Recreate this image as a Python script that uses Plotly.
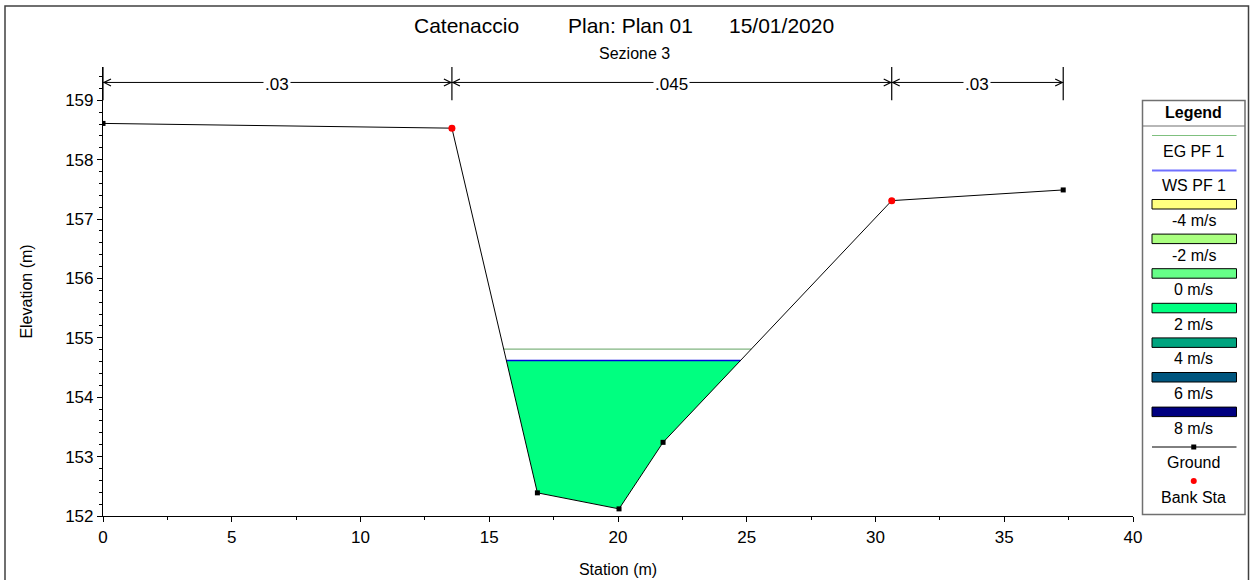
import plotly.graph_objects as go

# Cross-section geometry (station, elevation)
stations = [0.0, 13.55, 16.87, 20.04, 21.75, 30.63, 37.29]
elevations = [158.61, 158.53, 152.39, 152.12, 153.24, 157.31, 157.49]
bank_stations = [13.55, 30.63]

# Water profiles
ws_elev = 154.62   # WS PF 1
eg_elev = 154.81   # EG PF 1

# Manning's n regions
n_breaks = [0.0, 13.55, 30.63, 37.29]
n_values = [".03", ".045", ".03"]

# Velocity legend
vel_labels = ["-4 m/s", "-2 m/s", "0 m/s", "2 m/s", "4 m/s", "6 m/s", "8 m/s"]
vel_colors = ["#ffff80", "#aaff80", "#66ff88", "#00ff80", "#00a47f", "#00567f", "#000080"]

FONT = "Liberation Sans, Arial, sans-serif"
W, H = 1253, 580
L, R, T, B = 103, 120, 67, 64
PW, PH = W - L - R, H - T - B
Y_RANGE = [152.0, 159.56]
N_LINE_Y = 159.30


def px(x):
    return (x - L) / PW


def py(y):
    return (H - B - y) / PH


def text(x, y, s, size=16, anchor="center"):
    return dict(x=px(x), y=py(y), xref="paper", yref="paper", text=s, showarrow=False,
                xanchor=anchor, yanchor="middle",
                font=dict(family=FONT, size=size, color="black"))


def crossings(level):
    """Left and right stations where a water level meets the ground."""
    pts = []
    for i in range(len(stations) - 1):
        x0, y0, x1, y1 = stations[i], elevations[i], stations[i + 1], elevations[i + 1]
        if (y0 - level) * (y1 - level) < 0:
            t = (level - y0) / (y1 - y0)
            pts.append(x0 + t * (x1 - x0))
    return pts[0], pts[-1]


ws_l, ws_r = crossings(ws_elev)
eg_l, eg_r = crossings(eg_elev)

# wetted polygon below the water surface
poly_x = [ws_l] + [s for s in stations if ws_l < s < ws_r] + [ws_r]
poly_y = [ws_elev] + [e for s, e in zip(stations, elevations) if ws_l < s < ws_r] + [ws_elev]

fig = go.Figure()
fig.add_trace(go.Scatter(x=poly_x + [poly_x[0]], y=poly_y + [poly_y[0]], fill="toself",
                         fillcolor="#00ff80", mode="none", hoverinfo="skip"))
fig.add_trace(go.Scatter(x=[eg_l, eg_r], y=[eg_elev, eg_elev], mode="lines",
                         line=dict(color="#80b480", width=1.2), name="EG PF 1"))
fig.add_trace(go.Scatter(x=[ws_l, ws_r], y=[ws_elev, ws_elev], mode="lines",
                         line=dict(color="#0000e0", width=1.5), name="WS PF 1"))
fig.add_trace(go.Scatter(x=stations, y=elevations, mode="lines+markers",
                         line=dict(color="black", width=1),
                         marker=dict(symbol="square", size=5, color="black"), name="Ground"))
bank_y = [e for s, e in zip(stations, elevations) if s in bank_stations]
fig.add_trace(go.Scatter(x=bank_stations, y=bank_y, mode="markers",
                         marker=dict(symbol="circle", size=7, color="red"), name="Bank Sta"))

shapes = []
annotations = []

# Manning's n markup above the section
for xb in n_breaks:
    shapes.append(dict(type="line", xref="x", yref="y", x0=xb, x1=xb, y0=159.0, y1=Y_RANGE[1],
                       line=dict(color="black", width=1.2)))
for i, label in enumerate(n_values):
    a, b = n_breaks[i], n_breaks[i + 1]
    shapes.append(dict(type="line", xref="x", yref="y", x0=a, x1=b, y0=N_LINE_Y, y1=N_LINE_Y,
                       line=dict(color="black", width=1)))
    # chevrons pointing at each bounding bar
    shapes.append(dict(type="path", xref="x", yref="y", xsizemode="pixel", ysizemode="pixel",
                       xanchor=a, yanchor=N_LINE_Y, path="M 8,3.5 L 1,0 L 8,-3.5",
                       line=dict(color="black", width=1.2)))
    shapes.append(dict(type="path", xref="x", yref="y", xsizemode="pixel", ysizemode="pixel",
                       xanchor=b, yanchor=N_LINE_Y, path="M -8,3.5 L -1,0 L -8,-3.5",
                       line=dict(color="black", width=1.2)))
    annotations.append(dict(x=(a + b) / 2, y=N_LINE_Y, xref="x", yref="y", text=label,
                            showarrow=False, bgcolor="white", borderpad=1,
                            xanchor="center", yanchor="middle",
                            font=dict(family=FONT, size=17, color="black"), yshift=-2))

# Titles
title_parts = [("Catenaccio", 412), ("Plan: Plan 01", 566), ("15/01/2020", 727)]
for txt, x in title_parts:
    annotations.append(text(x, 25, txt, size=21, anchor="left"))
annotations.append(text(634, 53, "Sezione 3", size=16))

# Legend panel
LX0, LX1, LY0, LY1 = 1142.5, 1245, 100.5, 514.5
SX0, SX1 = 1152, 1236.5
LC = (LX0 + LX1) / 2
shapes.append(dict(type="rect", xref="paper", yref="paper", x0=px(LX0), x1=px(LX1),
                   y0=py(LY1), y1=py(LY0), line=dict(color="#707070", width=1.5),
                   fillcolor="white"))
shapes.append(dict(type="line", xref="paper", yref="paper", x0=px(LX0), x1=px(LX1),
                   y0=py(126), y1=py(126), line=dict(color="#707070", width=1.2)))
annotations.append(text(LC, 113, "<b>Legend</b>"))

shapes.append(dict(type="line", xref="paper", yref="paper", x0=px(SX0), x1=px(SX1),
                   y0=py(135.5), y1=py(135.5), line=dict(color="#7fc07f", width=1.2)))
annotations.append(text(LC, 151, "EG PF 1"))
shapes.append(dict(type="line", xref="paper", yref="paper", x0=px(SX0), x1=px(SX1),
                   y0=py(170.5), y1=py(170.5), line=dict(color="#7070ff", width=2)))
annotations.append(text(LC, 185.5, "WS PF 1"))

sw_top = 199.5
for k, (lab, col) in enumerate(zip(vel_labels, vel_colors)):
    y0 = sw_top + k * 34.6
    shapes.append(dict(type="rect", xref="paper", yref="paper", x0=px(SX0), x1=px(SX1),
                       y0=py(y0 + 9.5), y1=py(y0), fillcolor=col,
                       line=dict(color="black", width=1)))
    annotations.append(text(LC, y0 + 21, lab))

shapes.append(dict(type="line", xref="paper", yref="paper", x0=px(SX0), x1=px(SX1),
                   y0=py(447), y1=py(447), line=dict(color="black", width=1)))
shapes.append(dict(type="rect", xref="paper", yref="paper", x0=px(LC - 2.5), x1=px(LC + 2.5),
                   y0=py(449.5), y1=py(444.5), fillcolor="black", line=dict(width=0)))
annotations.append(text(LC, 462, "Ground"))
shapes.append(dict(type="circle", xref="paper", yref="paper", x0=px(LC - 3), x1=px(LC + 3),
                   y0=py(484), y1=py(478), fillcolor="red", line=dict(width=0)))
annotations.append(text(LC, 497.5, "Bank Sta"))

# outer frame
shapes.append(dict(type="rect", xref="paper", yref="paper", x0=px(5), x1=px(1248.5),
                   y0=py(600), y1=py(6), line=dict(color="#404040", width=1.5)))

fig.update_layout(
    width=W, height=H,
    margin=dict(l=L, r=R, t=T, b=B, autoexpand=False),
    paper_bgcolor="white", plot_bgcolor="white",
    showlegend=False,
    font=dict(family=FONT, size=17, color="black"),
    shapes=shapes, annotations=annotations,
    xaxis=dict(range=[0, 40], tickvals=[0, 5, 10, 15, 20, 25, 30, 35, 40],
               ticks="outside", ticklen=5, tickwidth=1, tickcolor="black",
               minor=dict(dtick=2.5, ticks="outside", ticklen=3, tickcolor="black", showgrid=False),
               showline=True, linecolor="black", linewidth=1.2, showgrid=False, zeroline=False,
               tickfont=dict(family=FONT, size=17), automargin=False,
               title=dict(text="Station (m)", font=dict(family=FONT, size=16), standoff=18)),
    yaxis=dict(range=Y_RANGE, tickvals=[152, 153, 154, 155, 156, 157, 158, 159],
               ticks="outside", ticklen=5, tickwidth=1, tickcolor="black",
               minor=dict(dtick=0.2, ticks="outside", ticklen=3, tickcolor="black", showgrid=False),
               showline=True, linecolor="black", linewidth=1.2, showgrid=False, zeroline=False,
               tickfont=dict(family=FONT, size=17), automargin=False,
               title=dict(text="Elevation (m)", font=dict(family=FONT, size=16), standoff=28)),
)

fig.write_html("out.html")
